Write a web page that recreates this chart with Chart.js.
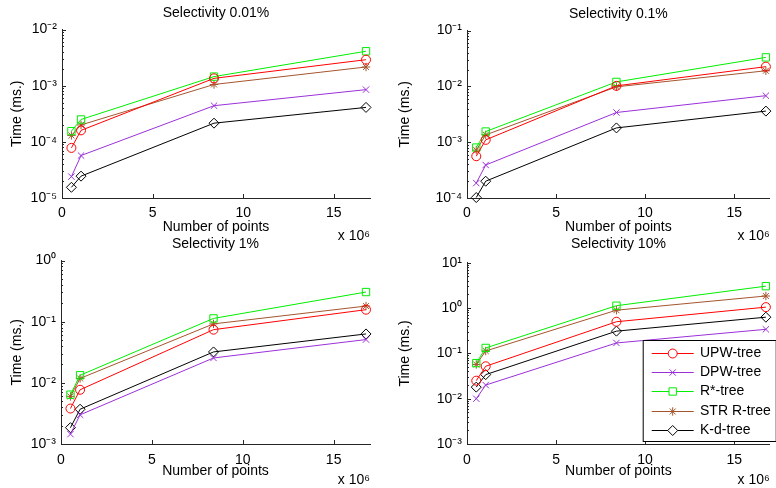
<!DOCTYPE html>
<html>
<head>
<meta charset="utf-8">
<script src="https://cdn.jsdelivr.net/npm/chart.js@4/dist/chart.umd.min.js"></script>
<style>
  html, body { margin: 0; padding: 0; background: #ffffff; }
  #wrap { position: relative; width: 776px; height: 488px; overflow: hidden; background: #fff; }
  .pane { position: absolute; }
</style>
</head>
<body>
<div id="wrap">
  <div class="pane" style="left:0px;top:0px;width:388px;height:250px;"><canvas id="c1"></canvas></div>
  <div class="pane" style="left:388px;top:0px;width:388px;height:250px;"><canvas id="c2"></canvas></div>
  <div class="pane" style="left:0px;top:236px;width:388px;height:252px;"><canvas id="c3"></canvas></div>
  <div class="pane" style="left:388px;top:236px;width:388px;height:252px;"><canvas id="c4"></canvas></div>
</div>
<script>
// ---- data ----
const pointCounts = [0.52, 1.05, 8.39, 16.78];          // number of points, x 10^6
const seriesNames = ['UPW-tree', 'DPW-tree', 'R*-tree', 'STR R-tree', 'K-d-tree'];
const panelTitles = ['Selectivity 0.01%', 'Selectivity 0.1%', 'Selectivity 1%', 'Selectivity 10%'];
const xTicks = [0, 5, 10, 15];

// Selectivity 0.01%
const upw001   = [7.8e-5, 1.6e-4, 1.35e-3, 2.9e-3];
const dpw001   = [2.4e-5, 5.7e-5, 4.4e-4, 8.5e-4];
const rstar001 = [1.55e-4, 2.5e-4, 1.45e-3, 4.1e-3];
const str001   = [1.3e-4, 2.0e-4, 1.05e-3, 2.15e-3];
const kd001    = [1.55e-5, 2.45e-5, 2.15e-4, 4.1e-4];
// Selectivity 0.1%
const upw01   = [5.6e-4, 1.1e-3, 1.02e-2, 2.25e-2];
const dpw01   = [1.85e-4, 3.9e-4, 3.4e-3, 6.8e-3];
const rstar01 = [8.0e-4, 1.55e-3, 1.2e-2, 3.3e-2];
const str01   = [7.2e-4, 1.35e-3, 9.8e-3, 1.9e-2];
const kd01    = [1.02e-4, 2.0e-4, 1.8e-3, 3.6e-3];
// Selectivity 1%
const upw1   = [3.8e-3, 7.7e-3, 7.4e-2, 0.157];
const dpw1   = [1.45e-3, 3.0e-3, 2.55e-2, 5.1e-2];
const rstar1 = [6.4e-3, 1.33e-2, 0.113, 0.305];
const str1   = [6.0e-3, 1.18e-2, 9.2e-2, 0.18];
const kd1    = [1.85e-3, 3.7e-3, 3.2e-2, 6.3e-2];
// Selectivity 10%
const upw10   = [2.5e-2, 5.2e-2, 0.5, 1.05];
const dpw10   = [1.0e-2, 2.0e-2, 0.17, 0.34];
const rstar10 = [6.1e-2, 0.132, 1.13, 3.05];
const str10   = [5.7e-2, 0.113, 0.9, 1.85];
const kd10    = [1.8e-2, 3.4e-2, 0.31, 0.63];

// y-axis decade ranges (exponents)
const yExpRanges = [[-5, -2], [-4, -1], [-3, 0], [-3, 1]];

// ---- styles ----
const FONT = '"Liberation Sans", Arial, Helvetica, sans-serif';
const seriesStyles = [
  { color: '#ff0000', pointStyle: 'circle',   radius: 4.5 },
  { color: '#9b30d9', pointStyle: 'crossRot', radius: 4.5 },
  { color: '#00ee00', pointStyle: 'rect',     radius: 5.2 },
  { color: '#a5552d', pointStyle: 'star',     radius: 4.2 },
  { color: '#000000', pointStyle: 'rectRot',  radius: 5.0 }
];

const SUP = { '-': '\u207B', '0': '\u2070', '1': '\u00B9', '2': '\u00B2', '3': '\u00B3',
  '4': '\u2074', '5': '\u2075', '6': '\u2076', '7': '\u2077', '8': '\u2078', '9': '\u2079' };
function supText(n) { return String(n).split('').map(c => SUP[c] || c).join(''); }

function buildDatasets(valueArrays) {
  return valueArrays.map((vals, i) => ({
    label: seriesNames[i],
    data: vals.map((v, k) => ({ x: pointCounts[k], y: v })),
    borderColor: seriesStyles[i].color,
    backgroundColor: 'rgba(0,0,0,0)',
    pointBorderColor: seriesStyles[i].color,
    pointBackgroundColor: 'rgba(0,0,0,0)',
    pointStyle: seriesStyles[i].pointStyle,
    pointRadius: seriesStyles[i].radius,
    pointBorderWidth: 1,
    borderWidth: 1,
    tension: 0,
    clip: false
  }));
}

// ticks drawn inward + "x 10^6" label + optional legend
const decorPlugin = {
  id: 'decor',
  afterDraw(chart, args, opts) {
    const ctx = chart.ctx;
    const xs = chart.scales.x, ys = chart.scales.y;
    const area = chart.chartArea;
    ctx.save();
    ctx.strokeStyle = '#262626';
    ctx.lineWidth = 1;
    ctx.beginPath();
    // x ticks (inward, upward)
    xTicks.forEach(v => {
      const px = Math.round(xs.getPixelForValue(v)) + 0.5;
      ctx.moveTo(px, area.bottom);
      ctx.lineTo(px, area.bottom - 4);
    });
    // y decade ticks and minor ticks (inward, rightward)
    const [e0, e1] = opts.expRange;
    for (let e = e0; e <= e1; e++) {
      const py = Math.round(ys.getPixelForValue(Math.pow(10, e))) + 0.5;
      ctx.moveTo(area.left, py);
      ctx.lineTo(area.left + 4, py);
      if (e < e1) {
        for (let m = 2; m <= 9; m++) {
          const pm = Math.round(ys.getPixelForValue(m * Math.pow(10, e))) + 0.5;
          ctx.moveTo(area.left, pm);
          ctx.lineTo(area.left + 2, pm);
        }
      }
    }
    ctx.stroke();

    // "x 10^6" multiplier label
    ctx.fillStyle = '#000';
    ctx.textBaseline = 'middle';
    ctx.textAlign = 'right';
    ctx.font = '14px ' + FONT;
    ctx.fillText('x 10' + supText(6), area.right, area.bottom + opts.multOffset);

    if (opts.legend) {
      const lg = opts.legend;
      ctx.fillStyle = '#ffffff';
      ctx.fillRect(lg.x, lg.y, lg.w, lg.h);
      ctx.strokeStyle = '#000';
      ctx.lineWidth = 1;
      ctx.strokeRect(lg.x + 0.5, lg.y + 0.5, lg.w - 1, lg.h - 1);
      chart.data.datasets.forEach((ds, i) => {
        const cy = Math.round(lg.y + lg.first + i * lg.step) + 0.5;
        ctx.strokeStyle = ds.borderColor;
        ctx.lineWidth = 1;
        ctx.beginPath();
        ctx.moveTo(lg.x + lg.lineStart, cy);
        ctx.lineTo(lg.x + lg.lineEnd, cy);
        ctx.stroke();
        ctx.fillStyle = '#ffffff';
        Chart.helpers.drawPoint(ctx, {
          pointStyle: ds.pointStyle, radius: ds.pointRadius, rotation: 0, borderWidth: 1
        }, lg.x + (lg.lineStart + lg.lineEnd) / 2, cy);
        ctx.fillStyle = '#000';
        ctx.textAlign = 'left';
        ctx.textBaseline = 'middle';
        ctx.font = '14px ' + FONT;
        ctx.fillText(ds.label, lg.x + lg.textX, cy);
      });
    }
    ctx.restore();
  }
};

function makeChart(id, panel, values, geom) {
  const [e0, e1] = yExpRanges[panel];
  const canvas = document.getElementById(id);
  return new Chart(canvas, {
    type: 'line',
    data: { datasets: buildDatasets(values) },
    plugins: [decorPlugin],
    options: {
      responsive: true,
      maintainAspectRatio: false,
      animation: false,
      events: [],
      layout: { padding: { left: geom.padLeft, right: geom.padRight, top: 0, bottom: geom.padBottom } },
      plugins: {
        legend: { display: false },
        tooltip: { enabled: false },
        title: {
          display: true,
          text: panelTitles[panel],
          fullSize: false,
          color: '#000',
          font: { family: FONT, size: 14, weight: 'normal', lineHeight: 1.2 },
          padding: { top: geom.titleTop, bottom: geom.titleBottom }
        },
        decor: { expRange: [e0, e1], multOffset: geom.multOffset, legend: geom.legend || null }
      },
      scales: {
        x: {
          type: 'linear',
          min: 0,
          max: 17,
          afterBuildTicks: s => { s.ticks = xTicks.map(v => ({ value: v })); },
          afterFit: s => { s.height = geom.xHeight; s.paddingLeft = 0; s.paddingRight = 0; },
          grid: { display: false, drawTicks: false },
          border: { display: true, color: '#262626', width: 1 },
          ticks: { color: '#000', padding: geom.xTickPad, maxRotation: 0, autoSkip: false,
                   font: { family: FONT, size: 14 } },
          title: { display: true, text: 'Number of points', color: '#000',
                   font: { family: FONT, size: 14, lineHeight: 1.2 },
                   padding: { top: 0, bottom: geom.xTitleBottom } }
        },
        y: {
          type: 'logarithmic',
          min: Math.pow(10, e0),
          max: Math.pow(10, e1),
          afterBuildTicks: s => {
            const t = [];
            for (let e = e0; e <= e1; e++) t.push({ value: Math.pow(10, e) });
            s.ticks = t;
          },
          afterFit: s => { s.width = geom.yWidth; },
          grid: { display: false, drawTicks: false },
          border: { display: true, color: '#262626', width: 1 },
          ticks: {
            color: '#000', padding: 5, autoSkip: false,
            font: { family: FONT, size: 14 },
            callback: v => '10' + supText(Math.round(Math.log10(v)))
          },
          title: { display: true, text: 'Time (ms.)', color: '#000',
                   font: { family: FONT, size: 14, lineHeight: 1.2 },
                   padding: { top: 0, bottom: 0 } }
        }
      }
    }
  });
}

const topGeom = { padLeft: 9, padRight: 18, padBottom: 12, yWidth: 53, xHeight: 40,
  titleTop: 4.7, titleBottom: 8, xTickPad: 7, xTitleBottom: 2.2, multOffset: 38 };
const topRightGeom = Object.assign({}, topGeom, { padLeft: 9, padRight: 0, yWidth: 70, titleTop: 5.7, titleBottom: 8 });
const botGeom = { padLeft: 9, padRight: 18, padBottom: 8, yWidth: 52, xHeight: 36,
  titleTop: 0, titleBottom: 7.7, xTickPad: 8, xTitleBottom: 0, multOffset: 36 };
const botRightGeom = Object.assign({}, botGeom, { padLeft: 9, padRight: 0, yWidth: 70, titleBottom: 10,
  legend: { x: 254.7, y: 104, w: 134, h: 102, first: 12.7, step: 19.3, lineStart: 9, lineEnd: 51, textX: 57.3 } });

makeChart('c1', 0, [upw001, dpw001, rstar001, str001, kd001], topGeom);
makeChart('c2', 1, [upw01, dpw01, rstar01, str01, kd01], topRightGeom);
makeChart('c3', 2, [upw1, dpw1, rstar1, str1, kd1], botGeom);
makeChart('c4', 3, [upw10, dpw10, rstar10, str10, kd10], botRightGeom);
</script>
</body>
</html>
